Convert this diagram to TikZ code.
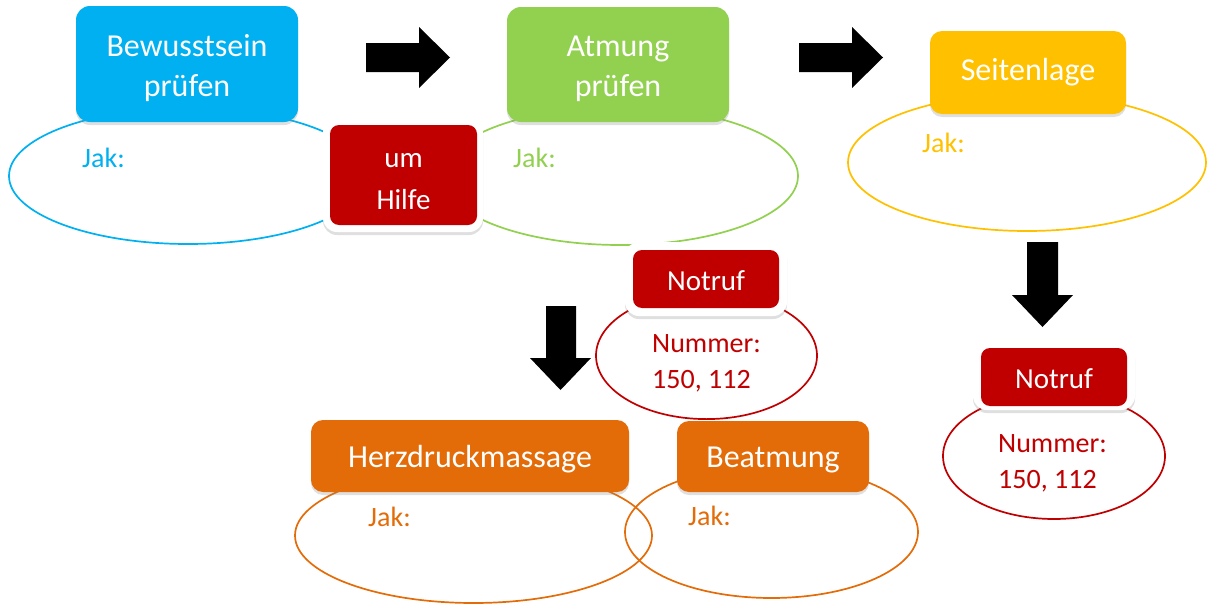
\documentclass[tikz,border=0pt]{standalone}
\usepackage{fontspec}
\setmainfont{Carlito}
\usetikzlibrary{shapes.geometric}
\usetikzlibrary{shadows}

\definecolor{bwBlue}{HTML}{00B0F0}
\definecolor{atGreen}{HTML}{92D050}
\definecolor{slYellow}{HTML}{FFC000}
\definecolor{hzOrange}{HTML}{E36C09}
\definecolor{ntRed}{HTML}{C00000}

\tikzset{
  stepbox/.style={rounded corners=14pt, inner sep=0pt, text=white, align=center,
    font=\fontsize{32}{40}\selectfont,
    drop shadow={shadow xshift=0pt, shadow yshift=-3pt, opacity=0.25}},
  oneline/.style={text height=#1, text depth=0pt},
  oneline/.default=22pt,
  ringline/.style={ellipse, draw, line width=1.7pt, inner sep=0pt},
  whiteframe/.style={fill=white, rounded corners=14pt, inner sep=0pt,
    drop shadow={shadow xshift=0pt, shadow yshift=-3pt, opacity=0.25}},
  redbox/.style={fill=ntRed, rounded corners=9pt, inner sep=0pt, text=white,
    align=center, font=\fontsize{29}{42}\selectfont},
  jaktext/.style={anchor=base west, inner sep=0pt, font=\fontsize{28}{34}\selectfont},
}

\begin{document}
\begin{tikzpicture}[x=1pt,y=-1pt]
    \useasboundingbox (0,0) rectangle (1208,605);
    % Ellipses
    \node[ringline, draw=bwBlue, minimum width=358pt, minimum height=136pt] (bewEll) at (188,176) {};
    \node[ringline, draw=atGreen, minimum width=356pt, minimum height=138pt] (atmEll) at (620,176) {};
    \node[ringline, draw=slYellow, minimum width=358pt, minimum height=137pt] (seiEll) at (1027,162.5) {};
    \node[ringline, draw=hzOrange, minimum width=357pt, minimum height=135pt] (herzEll) at (473.5,535.5) {};
    \node[ringline, draw=hzOrange, minimum width=293pt, minimum height=132pt] (beatEll) at (771.5,532) {};
    \node[ringline, draw=ntRed, minimum width=221pt, minimum height=127pt] (notMidEll) at (706.5,355.6) {};
    \node[ringline, draw=ntRed, minimum width=222pt, minimum height=126pt] (notRgtEll) at (1054,456) {};
    % Arrows
    \fill[black] (366,43) -- (419,43) -- (419,27) -- (450,57.5) -- (419,88) -- (419,72) -- (366,72) -- cycle;
    \fill[black] (799,43) -- (852,43) -- (852,27) -- (883,57.5) -- (852,88) -- (852,72) -- (799,72) -- cycle;
    \fill[black] (546,306) -- (576,306) -- (576,358) -- (591,358) -- (560.5,390) -- (530,358) -- (546,358) -- cycle;
    \fill[black] (1027,242) -- (1058,242) -- (1058,295) -- (1073,295) -- (1042.5,327) -- (1012,295) -- (1027,295) -- cycle;
    % Steps
    \node[stepbox, fill=bwBlue, minimum width=222pt, minimum height=116pt] (bew) at (187,64) {\rule{0pt}{31pt}Bewusstsein\\prüfen};
    \node[stepbox, fill=atGreen, minimum width=222pt, minimum height=115pt] (atm) at (618,64.5) {\rule{0pt}{30pt}Atmung\\prüfen};
    \node[stepbox, oneline=15pt, fill=slYellow, minimum width=196pt, minimum height=83pt, rounded corners=12pt] (sei) at (1028,72.5) {Seitenlage};
    \node[stepbox, oneline, fill=hzOrange, minimum width=318pt, minimum height=72pt, rounded corners=12pt] (herz) at (470,456) {Herzdruckmassage};
    \node[stepbox, oneline, fill=hzOrange, minimum width=192pt, minimum height=71pt, rounded corners=12pt] (beat) at (773,456.5) {Beatmung};
    % Red boxes
    \node[whiteframe, minimum width=160pt, minimum height=114pt] (hilfeFrame) at (403,175) {};
    \node[redbox, minimum width=147pt, minimum height=100pt] (hilfe) at (403.5,175) {\rule{0pt}{28pt}um\\Hilfe};
    \node[whiteframe, minimum width=162pt, minimum height=74pt] (notMidFrame) at (706,279) {};
    \node[redbox, oneline, minimum width=146pt, minimum height=58pt] (notMid) at (706,279) {Notruf};
    \node[whiteframe, minimum width=162pt, minimum height=68pt] (notRgtFrame) at (1054,376) {};
    \node[redbox, oneline, minimum width=146pt, minimum height=58pt] (notRgt) at (1054,377) {Notruf};
    % Labels
    \node[jaktext, text=bwBlue] (bewJak) at (82,167) {Jak:};
    \node[jaktext, text=atGreen] (atmJak) at (513,167) {Jak:};
    \node[jaktext, text=slYellow] (seiJak) at (922,152) {Jak:};
    \node[jaktext, text=hzOrange] (herzJak) at (368,526) {Jak:};
    \node[jaktext, text=hzOrange] (beatJak) at (688,525) {Jak:};
    \node[jaktext, text=ntRed] (midNum) at (652,352) {Nummer:};
    \node[jaktext, text=ntRed] (midDigits) at (652,388) {150, 112};
    \node[jaktext, text=ntRed] (rgtNum) at (998,452) {Nummer:};
    \node[jaktext, text=ntRed] (rgtDigits) at (998,488) {150, 112};
\end{tikzpicture}
\end{document}
